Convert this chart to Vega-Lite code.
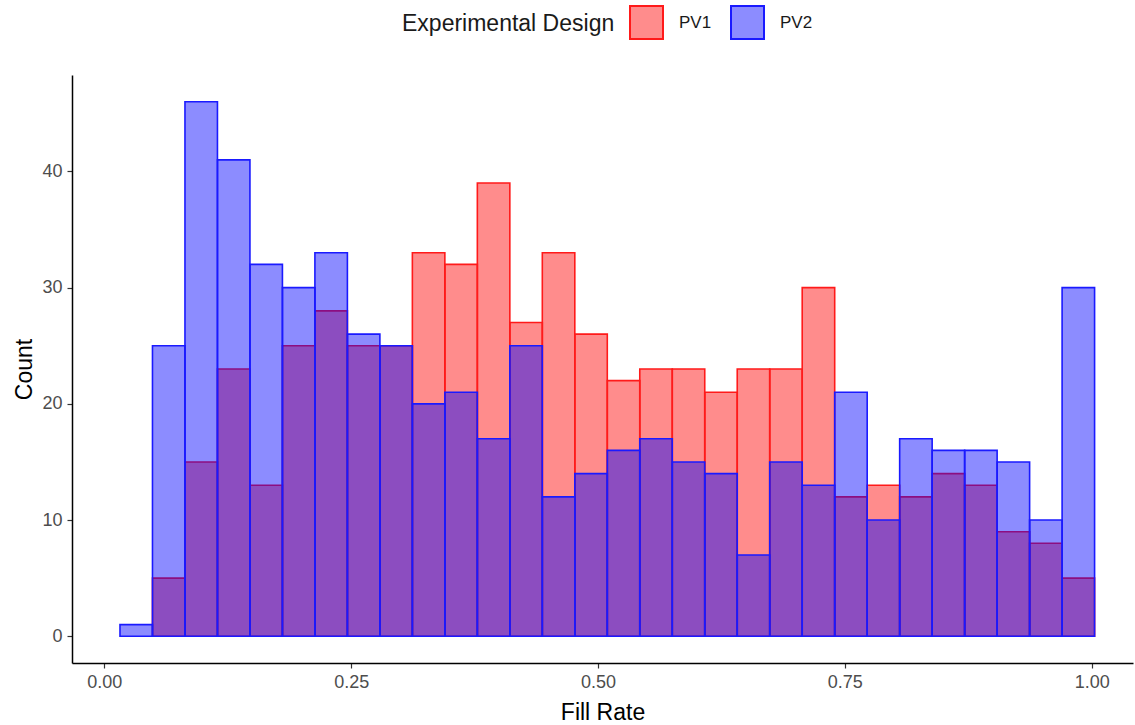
{
  "$schema": "https://vega.github.io/schema/vega-lite/v6.json",
  "width": 1061,
  "height": 588,
  "autosize": {"type": "none"},
  "padding": {"left": 72, "top": 75, "right": 2, "bottom": 62},
  "background": "white",
  "config": {
    "view": {"stroke": null},
    "font": "Liberation Sans",
    "axis": {"grid": false, "domainColor": "black", "domainWidth": 1.5, "tickColor": "#333333", "tickWidth": 1.2, "tickSize": 5, "labelColor": "#4D4D4D", "labelFontSize": 18, "labelFont": "Liberation Sans", "titleFont": "Liberation Sans", "titleFontSize": 23, "titleFontWeight": "normal", "titleColor": "black"}
  },
  "data": {"values": [
    {"design": "PV1", "start": 0.0488, "end": 0.0817, "count": 5},
    {"design": "PV1", "start": 0.0817, "end": 0.1146, "count": 15},
    {"design": "PV1", "start": 0.1146, "end": 0.1475, "count": 23},
    {"design": "PV1", "start": 0.1475, "end": 0.1804, "count": 13},
    {"design": "PV1", "start": 0.1804, "end": 0.2133, "count": 25},
    {"design": "PV1", "start": 0.2133, "end": 0.2462, "count": 28},
    {"design": "PV1", "start": 0.2462, "end": 0.2791, "count": 25},
    {"design": "PV1", "start": 0.2791, "end": 0.3120, "count": 25},
    {"design": "PV1", "start": 0.3120, "end": 0.3449, "count": 33},
    {"design": "PV1", "start": 0.3449, "end": 0.3778, "count": 32},
    {"design": "PV1", "start": 0.3778, "end": 0.4107, "count": 39},
    {"design": "PV1", "start": 0.4107, "end": 0.4436, "count": 27},
    {"design": "PV1", "start": 0.4436, "end": 0.4765, "count": 33},
    {"design": "PV1", "start": 0.4765, "end": 0.5094, "count": 26},
    {"design": "PV1", "start": 0.5094, "end": 0.5423, "count": 22},
    {"design": "PV1", "start": 0.5423, "end": 0.5752, "count": 23},
    {"design": "PV1", "start": 0.5752, "end": 0.6081, "count": 23},
    {"design": "PV1", "start": 0.6081, "end": 0.6410, "count": 21},
    {"design": "PV1", "start": 0.6410, "end": 0.6739, "count": 23},
    {"design": "PV1", "start": 0.6739, "end": 0.7068, "count": 23},
    {"design": "PV1", "start": 0.7068, "end": 0.7397, "count": 30},
    {"design": "PV1", "start": 0.7397, "end": 0.7726, "count": 12},
    {"design": "PV1", "start": 0.7726, "end": 0.8055, "count": 13},
    {"design": "PV1", "start": 0.8055, "end": 0.8384, "count": 12},
    {"design": "PV1", "start": 0.8384, "end": 0.8713, "count": 14},
    {"design": "PV1", "start": 0.8713, "end": 0.9042, "count": 13},
    {"design": "PV1", "start": 0.9042, "end": 0.9371, "count": 9},
    {"design": "PV1", "start": 0.9371, "end": 0.9700, "count": 8},
    {"design": "PV1", "start": 0.9700, "end": 1.0029, "count": 5},
    {"design": "PV2", "start": 0.0159, "end": 0.0488, "count": 1},
    {"design": "PV2", "start": 0.0488, "end": 0.0817, "count": 25},
    {"design": "PV2", "start": 0.0817, "end": 0.1146, "count": 46},
    {"design": "PV2", "start": 0.1146, "end": 0.1475, "count": 41},
    {"design": "PV2", "start": 0.1475, "end": 0.1804, "count": 32},
    {"design": "PV2", "start": 0.1804, "end": 0.2133, "count": 30},
    {"design": "PV2", "start": 0.2133, "end": 0.2462, "count": 33},
    {"design": "PV2", "start": 0.2462, "end": 0.2791, "count": 26},
    {"design": "PV2", "start": 0.2791, "end": 0.3120, "count": 25},
    {"design": "PV2", "start": 0.3120, "end": 0.3449, "count": 20},
    {"design": "PV2", "start": 0.3449, "end": 0.3778, "count": 21},
    {"design": "PV2", "start": 0.3778, "end": 0.4107, "count": 17},
    {"design": "PV2", "start": 0.4107, "end": 0.4436, "count": 25},
    {"design": "PV2", "start": 0.4436, "end": 0.4765, "count": 12},
    {"design": "PV2", "start": 0.4765, "end": 0.5094, "count": 14},
    {"design": "PV2", "start": 0.5094, "end": 0.5423, "count": 16},
    {"design": "PV2", "start": 0.5423, "end": 0.5752, "count": 17},
    {"design": "PV2", "start": 0.5752, "end": 0.6081, "count": 15},
    {"design": "PV2", "start": 0.6081, "end": 0.6410, "count": 14},
    {"design": "PV2", "start": 0.6410, "end": 0.6739, "count": 7},
    {"design": "PV2", "start": 0.6739, "end": 0.7068, "count": 15},
    {"design": "PV2", "start": 0.7068, "end": 0.7397, "count": 13},
    {"design": "PV2", "start": 0.7397, "end": 0.7726, "count": 21},
    {"design": "PV2", "start": 0.7726, "end": 0.8055, "count": 10},
    {"design": "PV2", "start": 0.8055, "end": 0.8384, "count": 17},
    {"design": "PV2", "start": 0.8384, "end": 0.8713, "count": 16},
    {"design": "PV2", "start": 0.8713, "end": 0.9042, "count": 16},
    {"design": "PV2", "start": 0.9042, "end": 0.9371, "count": 15},
    {"design": "PV2", "start": 0.9371, "end": 0.9700, "count": 10},
    {"design": "PV2", "start": 0.9700, "end": 1.0029, "count": 30}
  ]},
  "mark": {"type": "bar", "fillOpacity": 0.45, "strokeWidth": 1.6, "binSpacing": 0},
  "encoding": {
    "x": {"field": "start", "type": "quantitative", "scale": {"domain": [-0.0327, 1.0418], "nice": false, "zero": false},
      "axis": {"values": [0, 0.25, 0.5, 0.75, 1], "format": ".2f", "title": "Fill Rate", "labelPadding": 5, "titlePadding": 10}},
    "x2": {"field": "end"},
    "y": {"field": "count", "type": "quantitative", "scale": {"domain": [-2.3, 48.3], "nice": false, "zero": false},
      "axis": {"values": [0, 10, 20, 30, 40], "title": "Count", "labelPadding": 5, "titlePadding": 5}},
    "y2": {"datum": 0},
    "fill": {"field": "design", "type": "nominal", "scale": {"domain": ["PV1", "PV2"], "range": ["#FF0000", "#0000FF"]},
      "legend": {"title": "Experimental Design", "orient": "none", "legendX": 330, "legendY": -70, "direction": "horizontal", "titleOrient": "left", "titleLimit": 500, "titleFontSize": 23, "titleFontWeight": "normal", "titleColor": "#1A1A1A", "titleFont": "Liberation Sans", "labelFont": "Liberation Sans", "labelFontSize": 17, "labelColor": "#1A1A1A", "symbolType": "square", "symbolSize": 1089, "symbolStrokeWidth": 2, "columnPadding": 15, "labelOffset": 15, "titlePadding": 14,
        "encode": {"symbols": {"update": {"fillOpacity": {"value": 0.45}, "strokeOpacity": {"value": 1}, "opacity": {"value": 1}}}}}},
    "stroke": {"field": "design", "type": "nominal", "scale": {"domain": ["PV1", "PV2"], "range": ["#FF1A1A", "#1A1AFF"]}},
    "order": {"field": "design"}
  }
}
